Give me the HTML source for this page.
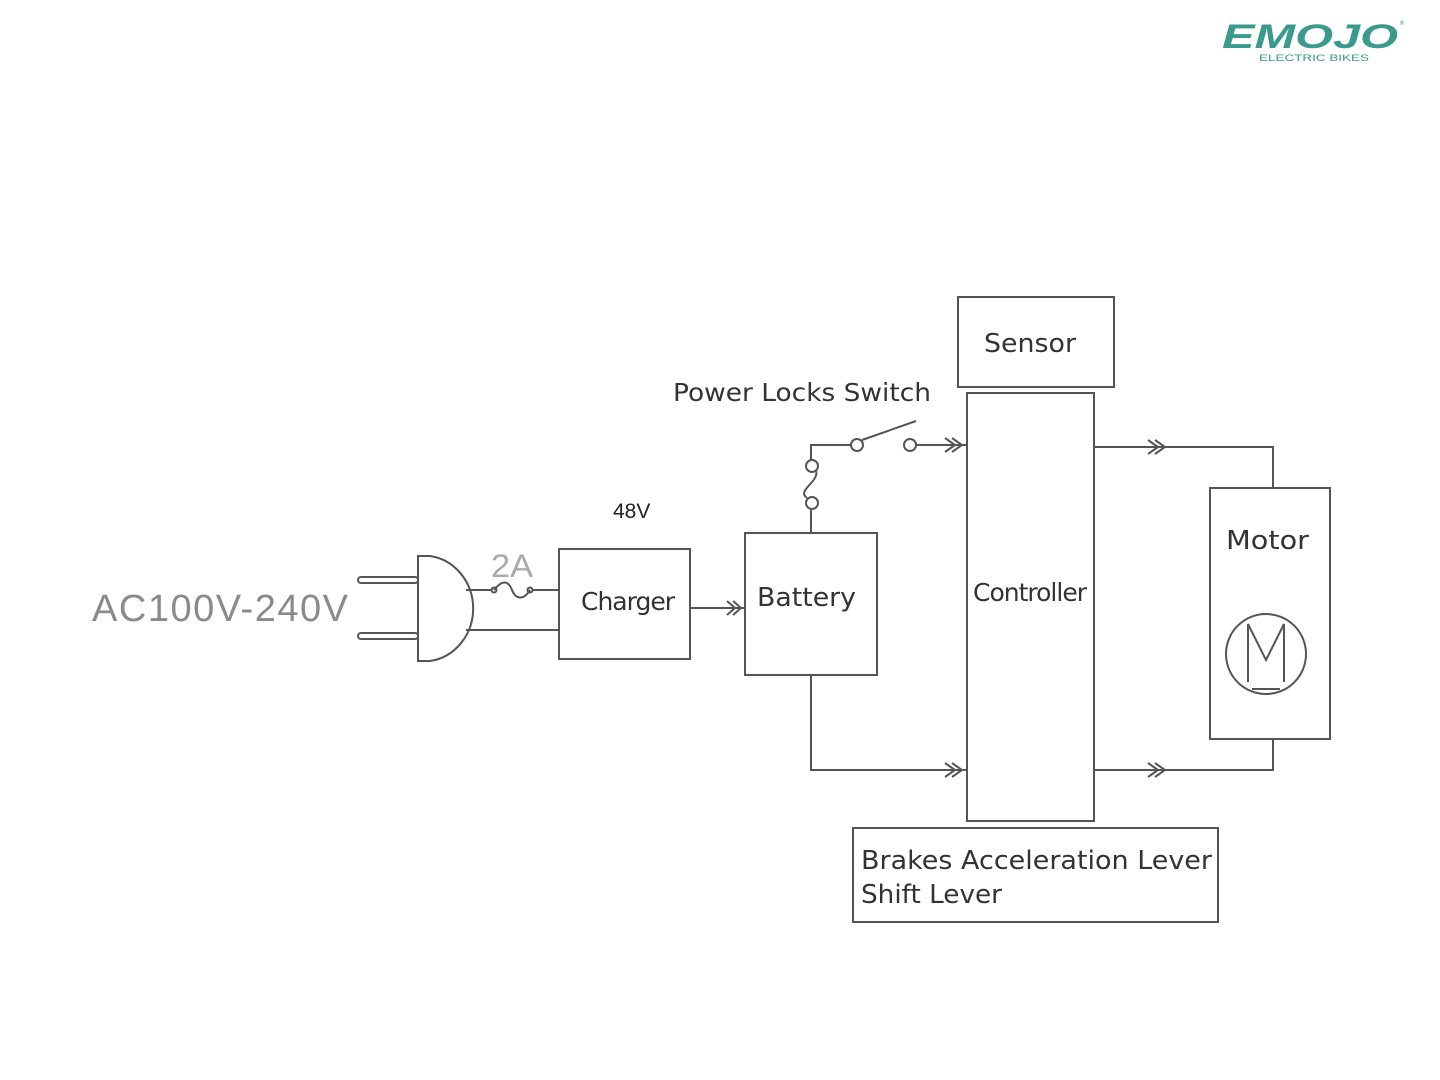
<!DOCTYPE html>
<html><head><meta charset="utf-8"><style>
html,body{margin:0;padding:0;background:#fff;width:1440px;height:1080px;overflow:hidden}
svg text{font-family:"DejaVu Sans","Liberation Sans",sans-serif;fill:#333}
</style></head><body>
<svg width="1440" height="1080" viewBox="0 0 1440 1080" xmlns="http://www.w3.org/2000/svg">
<text x="1222" y="48" style="font-family:'Liberation Sans',sans-serif;font-size:34px;font-weight:bold;font-style:italic;fill:#3a9a8c" textLength="176" lengthAdjust="spacingAndGlyphs">EMOJO</text>
<text x="1259" y="61" style="font-family:'Liberation Sans',sans-serif;font-size:9px;fill:#3a9a8c" textLength="110" lengthAdjust="spacingAndGlyphs">ELECTRIC BIKES</text>
<text x="1399" y="25" style="font-size:6px;fill:#3a9a8c">®</text>

<g fill="none" stroke="#555" stroke-width="2">
<rect x="958" y="297" width="156" height="90"/>
<rect x="967" y="393" width="127" height="428"/>
<rect x="1210" y="488" width="120" height="251"/>
<rect x="745" y="533" width="132" height="142"/>
<rect x="559" y="549" width="131" height="110"/>
<rect x="853" y="828" width="365" height="94"/>
<rect x="358" y="577" width="60" height="6" rx="3"/>
<rect x="358" y="633" width="60" height="6" rx="3"/>
<path d="M418,556 L418,661 L430,661 A50,53 0 0 0 430,556 Z"/>
<path d="M466,590 L492,590 M532,590 L559,590"/>
<circle cx="494" cy="590" r="2.5"/><circle cx="530" cy="590" r="2.5"/>
<path d="M494,590 C502,580 508,580 512,590 C516,600 524,600 530,590"/>
<path d="M466,630 L559,630"/>
<path d="M690,608 L745,608"/>
<path d="M727,601 L735,608 L727,615 M733,601 L741,608 L733,615"/>
<path d="M811,533 L811,510"/>
<circle cx="812" cy="503" r="6"/><circle cx="812" cy="466" r="6"/>
<path d="M807,498 C796,490 820,482 816,470"/>
<path d="M811,460 L811,445 L851,445"/>
<circle cx="857" cy="445" r="6"/><circle cx="910" cy="445" r="6"/>
<path d="M862,440 L916,421"/>
<path d="M916,445 L967,445"/>
<path d="M945,438 L955,445 L945,452 M952,438 L962,445 L952,452"/>
<path d="M811,675 L811,770 L967,770"/>
<path d="M945,763 L955,770 L945,777 M952,763 L962,770 L952,777"/>
<path d="M1094,447 L1273,447 L1273,488"/>
<path d="M1148,440 L1158,447 L1148,454 M1155,440 L1165,447 L1155,454"/>
<path d="M1094,770 L1273,770 L1273,739"/>
<path d="M1148,763 L1158,770 L1148,777 M1155,763 L1165,770 L1155,777"/>
<circle cx="1266" cy="654" r="40"/>
<path d="M1248,682 L1248,624 L1266,660 L1284,624 L1284,682"/>
<path d="M1252,689 L1280,689"/>
</g>
<text x="673" y="401" style="font-size:25px" textLength="258" lengthAdjust="spacingAndGlyphs">Power Locks Switch</text>
<text x="613" y="518" style="font-size:21px;font-family:'Liberation Sans',sans-serif;fill:#222">48V</text>
<text x="491" y="577" style="font-size:32px;font-family:'Liberation Sans',sans-serif;fill:#aaa" textLength="42" lengthAdjust="spacingAndGlyphs">2A</text>
<text x="92" y="621" style="font-size:38px;font-family:'Liberation Sans',sans-serif;fill:#8a8a8a" textLength="256" lengthAdjust="spacing">AC100V-240V</text>
<text x="984" y="352" style="font-size:26px" textLength="92" lengthAdjust="spacingAndGlyphs">Sensor</text>
<text x="973" y="601" style="font-size:25px;letter-spacing:-1px">Controller</text>
<text x="1226" y="549" style="font-size:26px" textLength="83" lengthAdjust="spacingAndGlyphs">Motor</text>
<text x="757" y="606" style="font-size:26px" textLength="99" lengthAdjust="spacingAndGlyphs">Battery</text>
<text x="581" y="610" style="font-size:25px;letter-spacing:-1px">Charger</text>
<text x="861" y="869" style="font-size:26px" textLength="351" lengthAdjust="spacingAndGlyphs">Brakes  Acceleration Lever</text>
<text x="861" y="903" style="font-size:26px" textLength="141" lengthAdjust="spacingAndGlyphs">Shift Lever</text>
</svg>
</body></html>
